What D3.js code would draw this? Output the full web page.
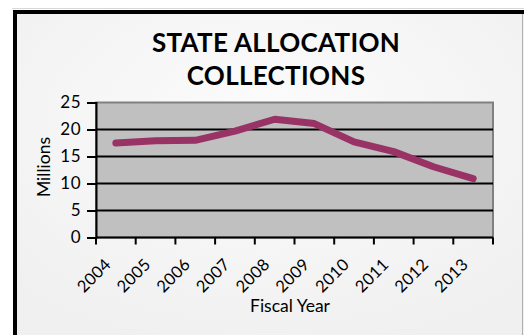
<!DOCTYPE html>
<html>
<head>
<meta charset="utf-8">
<script src="https://cdn.jsdelivr.net/npm/d3@7"></script>
<style>
  html, body { margin: 0; padding: 0; background: #ffffff; }
  svg { display: block; }
  text { font-family: Lato, "Open Sans", sans-serif; fill: #000; }
</style>
</head>
<body>
<svg id="chart" width="524" height="335"></svg>
<script>
// Fiscal years and state allocation collections (millions of dollars)
const years = ["2004", "2005", "2006", "2007", "2008", "2009", "2010", "2011", "2012", "2013"];
const collections = [17.5, 17.9, 18.0, 19.7, 21.9, 21.1, 17.7, 15.9, 13.1, 10.9];
const yTicks = [0, 5, 10, 15, 20, 25];
const titleLines = ["STATE ALLOCATION", "COLLECTIONS"];

const svg = d3.select("#chart");
const W = 524, H = 335;

// chart-area background with a soft centered glow
const defs = svg.append("defs");
const glow = defs.append("radialGradient")
  .attr("id", "bg").attr("cx", "50%").attr("cy", "35%").attr("r", "70%");
glow.append("stop").attr("offset", "0%").attr("stop-color", "#fcfcfc");
glow.append("stop").attr("offset", "100%").attr("stop-color", "#f0f0f0");

svg.append("rect").attr("x", 13).attr("y", 10).attr("width", W - 13).attr("height", H - 10)
  .attr("fill", "url(#bg)");
// thin shadow line outside the frame
svg.append("line").attr("x1", 12).attr("x2", W).attr("y1", 8.5).attr("y2", 8.5)
  .attr("stroke", "#d8d8d8").attr("stroke-width", 1);
// heavy black frame on top and left, light edge on the right
svg.append("path")
  .attr("d", `M15,${H} L15,12 L${W},12`)
  .attr("fill", "none").attr("stroke", "#000").attr("stroke-width", 4);
svg.append("line").attr("x1", 522.5).attr("x2", 522.5).attr("y1", 14).attr("y2", H)
  .attr("stroke", "#b0b0b0").attr("stroke-width", 1);

// title
svg.append("text")
  .attr("x", 276).attr("text-anchor", "middle")
  .style("font-size", "26px").style("font-weight", "bold").style("letter-spacing", "0.3px")
  .selectAll("tspan").data(titleLines).join("tspan")
  .attr("x", 276).attr("y", (d, i) => 52 + i * 33)
  .text(d => d);

// plot geometry
const plotL = 96, plotR = 493, plotT = 102.5, plotB = 237.5;

const x = d3.scaleBand().domain(years).range([plotL, plotR]).paddingInner(0).paddingOuter(0);
const y = d3.scaleLinear().domain([0, 25]).range([plotB, plotT]);

// plot area
svg.append("rect")
  .attr("x", plotL).attr("y", plotT).attr("width", plotR - plotL).attr("height", plotB - plotT)
  .attr("fill", "#c0c0c0").attr("stroke", "#808080").attr("stroke-width", 2);

// horizontal gridlines
svg.append("g").selectAll("line").data(yTicks.filter(v => v > 0 && v < 25)).join("line")
  .attr("x1", plotL).attr("x2", plotR)
  .attr("y1", d => y(d)).attr("y2", d => y(d))
  .attr("stroke", "#000").attr("stroke-width", 2);

// y axis
const yAxis = svg.append("g").attr("transform", `translate(${plotL},0)`)
  .call(d3.axisLeft(y).tickValues(yTicks).tickSize(9).tickPadding(6));
yAxis.select(".domain").attr("stroke", "#000").attr("stroke-width", 2);
yAxis.selectAll(".tick line").attr("stroke", "#000").attr("stroke-width", 2);
yAxis.selectAll(".tick text").style("font-size", "17px").style("font-family", "Lato, sans-serif")
  .style("letter-spacing", "0.5px").attr("fill", "#000");

// x axis: ticks at category boundaries
const bounds = years.map(d => x(d)).concat([plotR]);
svg.append("line").attr("x1", plotL).attr("x2", plotR).attr("y1", plotB).attr("y2", plotB)
  .attr("stroke", "#000").attr("stroke-width", 2);
svg.append("g").selectAll("line").data(bounds).join("line")
  .attr("x1", d => d).attr("x2", d => d)
  .attr("y1", plotB).attr("y2", plotB + 7)
  .attr("stroke", "#000").attr("stroke-width", 2);

svg.append("g").selectAll("text").data(years).join("text")
  .attr("transform", d => `translate(${x(d) + x.bandwidth() / 2 - 8},${plotB + 24}) rotate(-45)`)
  .attr("text-anchor", "end")
  .attr("dy", "0.35em")
  .style("font-size", "16.5px")
  .style("letter-spacing", "0.3px")
  .text(d => d);

// axis titles
svg.append("text")
  .attr("x", 290).attr("y", 312).attr("text-anchor", "middle")
  .style("font-size", "17.5px")
  .text("Fiscal Year");
svg.append("text")
  .attr("transform", `translate(50,167) rotate(-90)`)
  .attr("text-anchor", "middle")
  .style("font-size", "17.5px")
  .text("Millions");

// collections line
const line = d3.line()
  .x((d, i) => x(years[i]) + x.bandwidth() / 2)
  .y(d => y(d));
svg.append("path")
  .datum(collections)
  .attr("d", line)
  .attr("fill", "none")
  .attr("stroke", "#993366")
  .attr("stroke-width", 7)
  .attr("stroke-linejoin", "round")
  .attr("stroke-linecap", "round");
</script>
</body>
</html>
